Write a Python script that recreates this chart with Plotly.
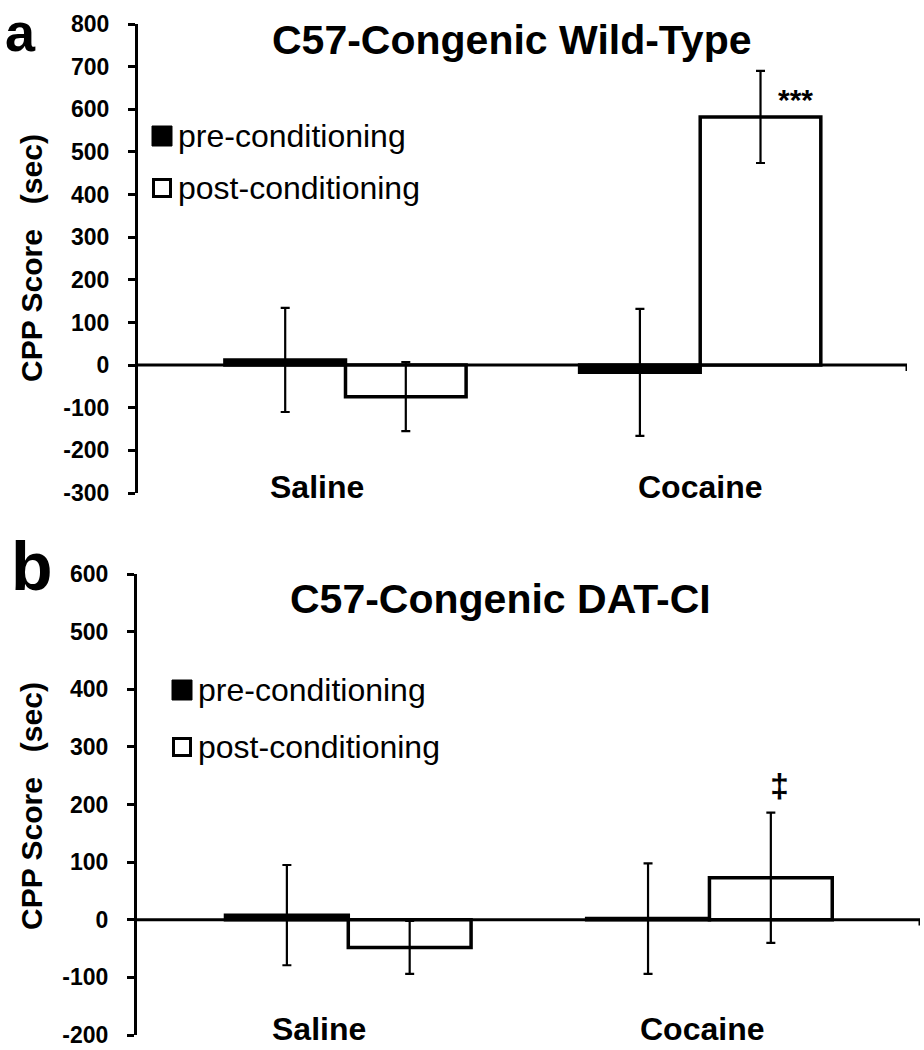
import plotly.graph_objects as go

W, H = 924, 1050
FONT = "Arial, Liberation Sans, Helvetica, sans-serif"

# ---------------- data ----------------
categories = ["Saline", "Cocaine"]
series = ["pre-conditioning", "post-conditioning"]

# panel a : C57-Congenic Wild-Type
a_pre = [12, -17]
a_pre_err = [122, 149]
a_post = [-74, 582]
a_post_err = [81, 108]

# panel b : C57-Congenic DAT-CI
b_pre = [8, 2]
b_pre_err = [87, 96]
b_post = [-48, 73]
b_post_err = [46, 113]

a_ticks = [-300, -200, -100, 0, 100, 200, 300, 400, 500, 600, 700, 800]
b_ticks = [-200, -100, 0, 100, 200, 300, 400, 500, 600]

a_title = "C57-Congenic Wild-Type"
b_title = "C57-Congenic DAT-CI"
y_title = "CPP Score\u00a0\u00a0\u00a0(sec)"
a_range = [-300, 800]
b_range = [-200, 600]

# ---------------- helpers ----------------
def px(x):
    return x / W

def py(y):
    return 1 - y / H

xpos = list(range(len(categories)))
BW = 0.34
XR = [-0.585, 1.583]

fig = go.Figure()

def add_panel(pre, pre_err, post, post_err, xa, ya):
    fig.add_trace(go.Bar(
        x=xpos, y=pre, width=BW, offset=-BW, name=series[0],
        marker=dict(color="black", line=dict(color="black", width=3.5)),
        error_y=dict(type="data", array=pre_err, color="black", thickness=2.2, width=4.5),
        xaxis=xa, yaxis=ya, showlegend=False))
    fig.add_trace(go.Bar(
        x=xpos, y=post, width=BW, offset=0, name=series[1],
        marker=dict(color="white", line=dict(color="black", width=3.5)),
        error_y=dict(type="data", array=post_err, color="black", thickness=2.2, width=4.5),
        xaxis=xa, yaxis=ya, showlegend=False))

add_panel(a_pre, a_pre_err, a_post, a_post_err, "x", "y")
add_panel(b_pre, b_pre_err, b_post, b_post_err, "x2", "y2")

def yax(ticks, rng, dom):
    return dict(showline=True, linecolor="black", linewidth=3, ticks="outside", ticklen=7,
                tickwidth=3, tickcolor="black", tickmode="array", tickvals=ticks,
                ticktext=[str(t) for t in ticks], showgrid=False, zeroline=False,
                range=rng, domain=dom, automargin=False, ticklabeloverflow="allow",
                tickfont=dict(family=FONT, size=23, color="black", weight="bold"),
                ticklabelstandoff=14)

xax = dict(range=XR, showgrid=False, showline=False, showticklabels=False, ticks="",
           zeroline=False, automargin=False)

fig.update_layout(
    width=W, height=H, margin=dict(l=0, r=0, t=0, b=0, autoexpand=False),
    paper_bgcolor="white", plot_bgcolor="white", barmode="overlay",
    xaxis=dict(xax, domain=[px(138), px(907)], anchor="y"),
    yaxis=dict(yax(a_ticks, a_range, [py(493), py(24)]), anchor="x"),
    xaxis2=dict(xax, domain=[px(137), px(920)], anchor="y2"),
    yaxis2=dict(yax(b_ticks, b_range, [py(1035), py(574)]), anchor="x2"),
)

shapes = []
ann = []

def text(x, y, s, size, bold=True, xref="paper", yref="paper", xanchor="center", angle=0):
    ann.append(dict(x=x, y=y, xref=xref, yref=yref, text=s, showarrow=False,
                    xanchor=xanchor, yanchor="middle", textangle=angle,
                    font=dict(family=FONT, size=size, color="black",
                              weight="bold" if bold else "normal")))

# zero axis lines (category axis crossing at 0)
for xr, yr, tick in (("x", "y", 14), ("x2", "y2", 10)):
    shapes.append(dict(type="line", xref=xr, yref=yr, x0=XR[0], x1=XR[1], y0=0, y1=0,
                       line=dict(color="black", width=3), layer="below"))
    shapes.append(dict(type="line", xref=xr, yref=yr, x0=XR[1], x1=XR[1], y0=0, y1=-tick,
                       line=dict(color="black", width=3)))

# category labels
label_off_a = [-0.08, 0.0]
label_off_b = [-0.08, -0.022]
for i, c in enumerate(categories):
    text(xpos[i] + label_off_a[i], py(487), c, 32, xref="x")
    text(xpos[i] + label_off_b[i], py(1029), c, 32, xref="x2")

# titles
text(px(512), py(40), a_title, 41)
text(px(500), py(599), b_title, 41)

# panel letters
text(px(20), py(32), "a", 54)
text(px(32), py(566), "b", 68)

# y-axis titles
for yc in (258, 806):
    text(px(31), py(yc), y_title, 30, angle=-90)

# significance marks
text(1.268, 622, "***", 30, xref="x", yref="y")
text(1.193, 233, "\u2021", 34, xref="x2", yref="y2")

# legends (manual, large swatches)
def legend(x0, y_pre, y_post, tx):
    shapes.append(dict(type="rect", xref="paper", yref="paper", x0=px(x0), x1=px(x0 + 20),
                       y0=py(y_pre + 10), y1=py(y_pre - 10), fillcolor="black",
                       line=dict(color="black", width=1)))
    shapes.append(dict(type="rect", xref="paper", yref="paper", x0=px(x0 + 1.5), x1=px(x0 + 18.5),
                       y0=py(y_post + 8.5), y1=py(y_post - 8.5), fillcolor="white",
                       line=dict(color="black", width=3)))
    text(px(tx), py(y_pre), series[0], 32, bold=False, xanchor="left")
    text(px(tx), py(y_post), series[1], 32, bold=False, xanchor="left")

legend(152, 136, 188, 176)
legend(172, 690, 747, 196)

fig.update_layout(shapes=shapes, annotations=ann)
fig.write_html(
    "out.html",
    config={"displayModeBar": False},
    post_script="document.documentElement.style.margin='0';document.body.style.margin='0';"
                "document.body.style.overflow='hidden';document.documentElement.style.overflow='hidden';",
)
